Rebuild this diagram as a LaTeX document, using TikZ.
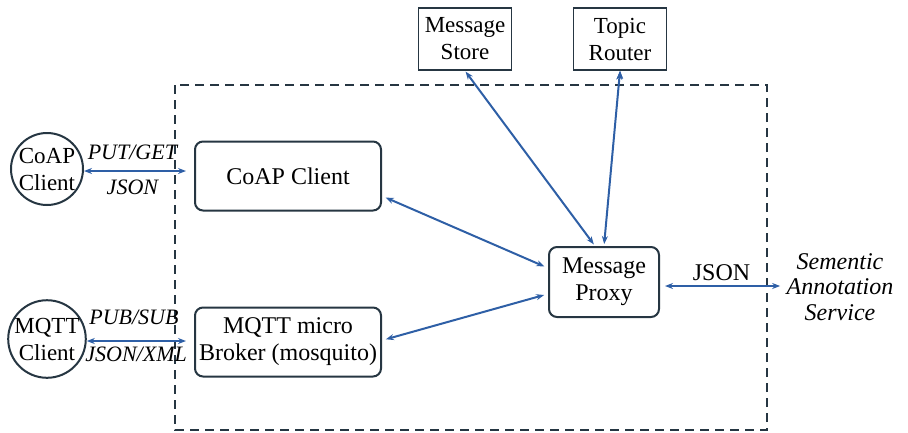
\documentclass[tikz,border=0pt]{standalone}
\usepackage{fontspec}
\setmainfont{Liberation Serif}
\newfontfamily\timesfont{Liberation Serif}
\usepackage{xcolor}
\usepackage{tikz}
\usetikzlibrary{shapes,arrows.meta,positioning}

\definecolor{boxline}{HTML}{263642}
\definecolor{linkblue}{HTML}{2E5FA6}

\begin{document}
\begin{tikzpicture}[x=1pt,y=-1pt,font=\timesfont\fontsize{24}{27}\selectfont]
        % Setup the styles for the parts
        \tikzset{client style/.style={circle, draw=boxline, line width=2pt,
                                      minimum size=72pt, inner sep=0pt, align=center,
                                      font=\timesfont\fontsize{23}{27}\selectfont},
                 box style/.style={rectangle, rounded corners=8pt, draw=boxline,
                                   line width=2pt, minimum width=186pt,
                                   minimum height=69pt, align=center},
                 store style/.style={rectangle, draw=boxline, line width=1.6pt,
                                     minimum width=93pt, minimum height=62pt,
                                     inner sep=2pt, align=center,
                                     font=\timesfont\fontsize{23}{27}\selectfont},
                 link style/.style={line width=2pt, draw=linkblue,
                                    {Stealth[length=8pt,width=6pt]}-{Stealth[length=8pt,width=6pt]}},
                 tag style/.style={font=\timesfont\fontsize{22}{26}\selectfont\itshape}}

        \useasboundingbox (0,0) rectangle (908,432);

        % The dashed frame
        \draw[boxline, line width=2pt, dash pattern=on 9pt off 6pt]
            (175,85) rectangle (767,430);

        % Draw the parts
        \node[client style] at (47,169)   (coapc)  {CoAP\\Client};
        \node[client style] at (47,339)   (mqttc)  {MQTT\\Client};
        \node[box style]    at (288,176)  (coap)   {CoAP Client};
        \node[box style]    at (288,342)  (broker) {MQTT micro\\Broker (mosquito)};
        \node[box style, minimum width=110pt, minimum height=70pt]
                            at (604,282)  (proxy)  {Message\\Proxy};
        \node[store style]  at (465,39)   (store)  {Message\\Store};
        \node[store style]  at (620,39)   (router) {Topic\\Router};
        \node[align=center, font=\timesfont\fontsize{24}{25.5}\selectfont\itshape]
                            at (840,287)  (sas)    {Sementic\\Annotation\\Service};

        % Connect the parts with arrows
        \draw[link style, shorten >=8pt]
            (coapc.east |- 0,171) -- (coap.west |- 0,171)
                node[pos=0.44, above=7pt, tag style] {PUT/GET}
                node[pos=0.44, below=5pt, tag style] {JSON};
        \draw[link style, shorten >=8pt]
            (mqttc.east |- 0,341) -- (broker.west |- 0,341)
                node[pos=0.44, above=12pt, tag style] {PUB/SUB}
                node[pos=0.46, below=2pt, tag style] {JSON/XML};
        \draw[link style]
            (coap.-12)    edge[shorten <=4pt, shorten >=4pt] (proxy.166)
            (broker.1)    edge[shorten <=4pt, shorten >=4pt] (proxy.192)
            (store.south) edge[shorten <=1pt, shorten >=2pt] (proxy.104)
            (router.south) edge[shorten <=1pt, shorten >=2pt] (proxy.north);
        \draw[link style, shorten <=5pt, shorten >=3pt]
            (proxy.east |- 0,286) -- (sas.west |- 0,286)
                node[midway, above=1pt] {JSON};
\end{tikzpicture}
\end{document}
